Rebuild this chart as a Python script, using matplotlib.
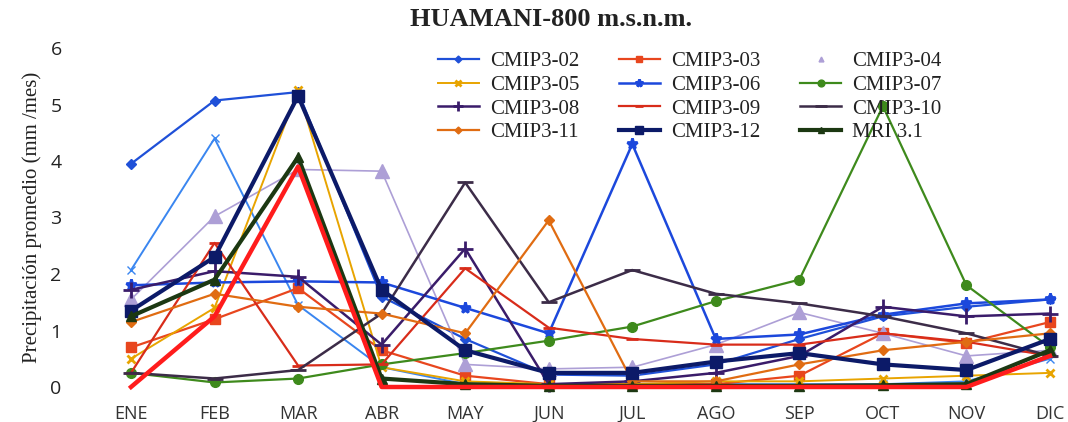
import matplotlib.pyplot as plt
from matplotlib.lines import Line2D

plt.rcParams["font.family"] = ["Liberation Serif", "DejaVu Serif"]

months = ["ENE", "FEB", "MAR", "ABR", "MAY", "JUN", "JUL", "AGO", "SEP", "OCT", "NOV", "DIC"]

cmip3_02 = [3.95, 5.07, 5.22, 1.60, 0.85, 0.22, 0.20, 0.40, 0.85, 1.25, 1.42, 1.55]
cmip3_03 = [0.70, 1.20, 1.75, 0.65, 0.20, 0.05, 0.05, 0.05, 0.20, 0.95, 0.78, 1.15]
cmip3_04 = [1.55, 3.02, 3.85, 3.82, 0.40, 0.32, 0.35, 0.75, 1.32, 0.95, 0.55, 0.65]
cmip3_05 = [0.50, 1.40, 5.25, 0.35, 0.10, 0.05, 0.05, 0.10, 0.10, 0.15, 0.20, 0.25]
cmip3_06 = [1.80, 1.85, 1.87, 1.85, 1.40, 0.95, 4.30, 0.85, 0.93, 1.28, 1.48, 1.55]
cmip3_07 = [0.25, 0.08, 0.15, 0.40, 0.60, 0.82, 1.07, 1.52, 1.90, 4.97, 1.80, 0.70]
cmip3_08 = [1.72, 2.05, 1.95, 0.75, 2.45, 0.05, 0.10, 0.25, 0.55, 1.42, 1.25, 1.30]
cmip3_09 = [0.25, 2.55, 0.38, 0.40, 2.10, 1.05, 0.85, 0.75, 0.75, 0.95, 0.80, 0.55]
cmip3_10 = [0.25, 0.15, 0.30, 1.30, 3.62, 1.50, 2.07, 1.65, 1.48, 1.25, 0.95, 0.55]
cmip3_11 = [1.15, 1.65, 1.42, 1.30, 0.95, 2.95, 0.10, 0.10, 0.40, 0.65, 0.80, 0.95]
cmip3_12 = [1.35, 2.30, 5.15, 1.72, 0.65, 0.25, 0.25, 0.45, 0.60, 0.40, 0.30, 0.85]
mri_31 = [1.25, 1.90, 4.07, 0.15, 0.05, 0.02, 0.02, 0.02, 0.02, 0.03, 0.05, 0.65]
# two extra runs drawn without legend entries
extra_red = [0.00, 1.25, 3.90, 0.00, 0.00, 0.00, 0.00, 0.00, 0.00, 0.00, 0.00, 0.55]
extra_blue = [2.07, 4.40, 1.45, 0.35, 0.05, 0.02, 0.02, 0.05, 0.05, 0.05, 0.10, 0.50]

# (label, values, color, marker, markersize, linewidth)
series = [
    ("CMIP3-02", cmip3_02, "#1f50d8", "D", 5, 1.6),
    ("CMIP3-03", cmip3_03, "#e8461e", "s", 7, 1.6),
    ("CMIP3-04", cmip3_04, "#ad9fd6", "^", 10, 1.2),
    ("CMIP3-05", cmip3_05, "#e8a400", "x", 6, 1.4),
    ("CMIP3-06", cmip3_06, "#1c48dc", "*", 8, 1.8),
    ("CMIP3-07", cmip3_07, "#3e8a1c", "o", 7, 1.6),
    ("CMIP3-08", cmip3_08, "#3a1c6a", "+", 11, 1.8),
    ("CMIP3-09", cmip3_09, "#d82c1a", "_", 9, 1.6),
    ("CMIP3-10", cmip3_10, "#3c2c48", "_", 12, 1.8),
    ("CMIP3-11", cmip3_11, "#e06c12", "D", 5, 1.6),
    ("CMIP3-12", cmip3_12, "#0c1a68", "s", 8, 3.0),
    ("MRI 3.1", mri_31, "#1c3812", "^", 7, 3.0),
]

fig = plt.figure(figsize=(10.68, 4.22), dpi=100)
ax = fig.add_axes([95 / 1068, 35 / 422, 967 / 1068, 339 / 422])
x = list(range(len(months)))

ax.plot(x, extra_blue, color="#3a86f0", marker="x", markersize=6, lw=1.4, clip_on=False)

handles = {}
for label, vals, color, marker, ms, lw in series:
    (h,) = ax.plot(x, vals, color=color, marker=marker, markersize=ms, lw=lw,
                   markeredgewidth=2 if marker in "+_x*" else 1, label=label, clip_on=False)
    handles[label] = h

ax.plot(x, extra_red, color="#ff1c1c", lw=3.2, clip_on=False)

# CMIP3-04 shows only a small marker in the key
handles["CMIP3-04"] = Line2D([], [], color="#ad9fd6", marker="^", markersize=5, lw=0)

ax.set_xlim(-36 / 83.55, 11 + 12 / 83.55)
ax.set_ylim(0, 6)
ax.set_xticks(x)
ax.set_xticklabels(months, fontfamily="Open Sans", fontsize=13, color="#333333")
ax.set_yticks(range(7))
ax.set_yticklabels([str(v) for v in range(7)], fontfamily="Open Sans", fontsize=14, color="#222222")
ax.tick_params(length=0, pad=13)
ax.tick_params(axis="y", pad=24)
for s in ax.spines.values():
    s.set_visible(False)

ax.set_ylabel("Precipitación promedio (mm /mes)", fontsize=15, labelpad=6, color="#222222")
fig.text(551 / 1068, 1 - 19 / 422, "HUAMANI-800 m.s.n.m.", ha="center", va="center",
         fontsize=19, fontweight="bold", color="#222222")

# legend filled row by row, matplotlib fills column by column
order = ["CMIP3-02", "CMIP3-05", "CMIP3-08", "CMIP3-11",
         "CMIP3-03", "CMIP3-06", "CMIP3-09", "CMIP3-12",
         "CMIP3-04", "CMIP3-07", "CMIP3-10", "MRI 3.1"]
leg = fig.legend([handles[k] for k in order], order, ncol=3, frameon=False,
                 loc="upper left", bbox_to_anchor=(423 / 1068, 1 - 37 / 422),
                 fontsize=15, handlelength=2.0, columnspacing=1.9, labelspacing=0.2,
                 handletextpad=0.5, markerscale=0.7, borderpad=0.2)
for t in leg.get_texts():
    t.set_color("#222222")

fig.savefig("out.png", dpi=100)
